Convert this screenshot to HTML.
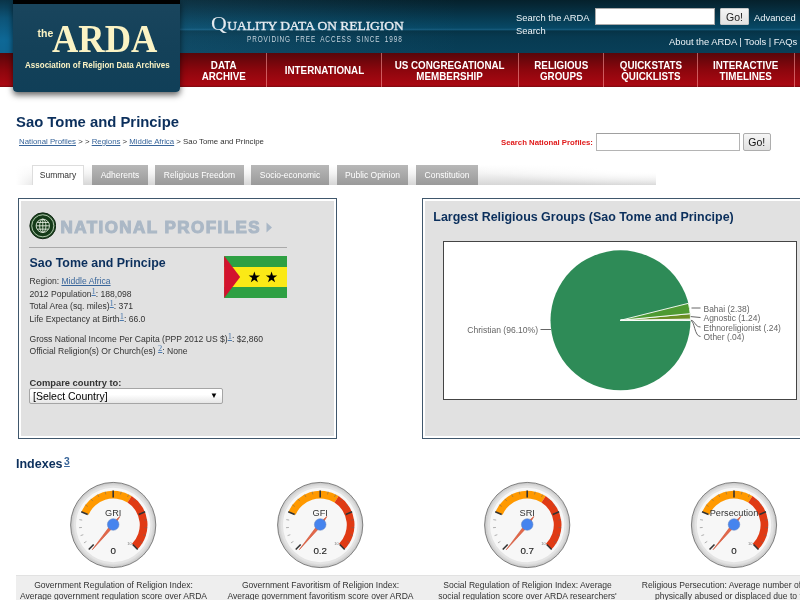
<!DOCTYPE html>
<html lang="en">
<head>
<meta charset="utf-8">
<title>Sao Tome and Principe | National Profiles | the ARDA</title>
<style>
*{box-sizing:border-box;}
html,body{margin:0;padding:0;}
body{width:800px;height:600px;overflow:hidden;background:#fff;font-family:"Liberation Sans",Arial,sans-serif;color:#333;position:relative;}
a{color:#38659a;}
.abs{position:absolute;white-space:nowrap;}
/* header */
#hdr{position:absolute;left:0;top:0;width:800px;height:53px;background:linear-gradient(to right,rgba(70,160,210,.13) 180px,rgba(70,160,210,0) 460px),linear-gradient(to bottom,#05212c 0px,#062735 5px,#074865 28px,#145879 29.5px,#063346 31px,#073a51 37px,#083f58 53px);}
#hdrL{position:absolute;left:0;top:0;width:13px;height:53px;background:linear-gradient(to bottom,#0a3448 0,#0d5478 18px,#0e6896 40px,#0e6592 53px);}
#nav{position:absolute;left:0;top:53px;width:800px;height:34px;background:linear-gradient(to bottom,#58060a 0,#8c060d 50%,#aa0812 94%,#7c0a10 100%);}
#nav .sep{position:absolute;top:0;width:1px;height:34px;background:rgba(255,160,160,.55);}
#nav .it{position:absolute;top:0;height:34px;color:#fff;font-weight:bold;font-size:11px;line-height:11.5px;text-align:center;display:flex;align-items:center;justify-content:center;padding-top:2px;}
#nav .it span{display:inline-block;transform:scaleX(.892);white-space:nowrap;position:relative;left:0.6px;}
#logo{position:absolute;left:12.5px;top:0;width:167.3px;height:92px;background:linear-gradient(to bottom,#19455d 0,#144159 50%,#103f58 100%);border-radius:0 0 4px 4px;box-shadow:0 3px 6px rgba(0,0,0,.62);border-top:4px solid #000;}
#lg-the{left:25px;top:22.5px;color:#fbf3c4;font-weight:bold;font-size:10.5px;}
#lg-arda{left:39.8px;top:11.4px;color:#fbf3c4;font-family:"Liberation Serif","DejaVu Serif",serif;font-weight:bold;font-size:40.5px;transform-origin:0 0;transform:scaleX(.9);}
#lg-sub{left:12px;top:55px;color:#fbf3c4;font-weight:bold;font-size:9.5px;transform-origin:0 0;transform:scaleX(.845);}
#tag1{left:211px;top:11.5px;color:#e6ebf0;font-family:"Liberation Serif",serif;font-weight:normal;font-size:13.5px;line-height:24px;letter-spacing:-0.04px;-webkit-text-stroke:0.35px #e6ebf0;}
#tag1 .q{font-size:19px;letter-spacing:0;-webkit-text-stroke:0;display:inline-block;transform:scaleX(1.15);transform-origin:0 50%;margin-right:2.6px;}
#tag2{left:247px;top:34px;color:#c5d3dd;font-size:8.6px;line-height:10px;letter-spacing:1.2px;word-spacing:2.4px;transform-origin:0 0;transform:scaleX(.745);}
.hs{color:#eef4f8;font-size:9.4px;line-height:14px;}
#hsin{position:absolute;left:595px;top:8px;width:120px;height:17px;background:#fff;border:1px solid #aaa;}
#hsgo{position:absolute;left:720px;top:8px;width:29px;height:17px;background:linear-gradient(#f4f4f4,#e2e2e2);border:1px solid #c8c8c8;border-radius:1px;font-size:10.5px;line-height:16.5px;text-align:center;color:#222;}
#hlinks{left:669px;top:34.5px;}
#h1{left:16px;top:113px;color:#0b2f5c;font-weight:bold;font-size:14.85px;line-height:18px;}
#crumb{left:19px;top:136px;font-size:7.83px;line-height:11px;color:#333;}
#snp{left:501px;top:138px;color:#e01a1a;font-weight:bold;font-size:7.77px;line-height:10px;}
#snpin{position:absolute;left:596px;top:133.3px;width:144px;height:17.5px;background:#fff;border:1px solid #b4b4b4;border-top-color:#a0a0a0;}
#snpgo{position:absolute;left:742.5px;top:133.3px;width:28.5px;height:17.5px;background:linear-gradient(#f6f6f6,#e0e0e0);border:1px solid #adadad;border-radius:2px;font-size:10.5px;line-height:16.5px;text-align:center;color:#111;}
#tabbar{position:absolute;left:16px;top:165px;width:640px;height:20px;background:radial-gradient(ellipse 190px 21px at 100% 0,#fff 0,#fff 35%,rgba(255,255,255,0) 100%),linear-gradient(to right,rgba(255,255,255,1) 0,rgba(255,255,255,0) 30px),linear-gradient(to bottom,#fff 0,#f4f4f4 40%,#d6d6d6 100%);}
.tab{position:absolute;top:165px;height:20px;background:linear-gradient(#b8b8b8,#9a9a9a);color:#fff;font-size:8.5px;line-height:20px;text-align:center;white-space:nowrap;}
.tab.on{background:#fff;color:#333;border:1px solid #ddd;border-bottom:none;line-height:19px;}
.box{position:absolute;top:198px;height:241px;border:1px solid #40576c;background:#e1e1e1;box-shadow:inset 0 0 0 2px #fff;}
#boxL{left:18px;width:319px;}
#boxR{left:422px;width:400px;}
#nptitle{left:60.5px;top:216.5px;color:#abb8c6;font-weight:bold;font-size:17px;line-height:22px;letter-spacing:1.45px;-webkit-text-stroke:1.1px #abb8c6;}
#nphr{position:absolute;left:29px;top:247px;width:258px;height:1px;background:#aaa;}
#npname{left:29.5px;top:254px;color:#0b2f5c;font-weight:bold;font-size:12.4px;line-height:18px;}
.np{left:29.5px;font-size:8.58px;line-height:12px;color:#333;}
.np .sup{font-size:8.5px;line-height:1px;position:relative;top:-2.6px;font-family:"Liberation Serif",serif;color:#4a78ad;}
#cmp{left:29.5px;top:377px;font-size:9.35px;font-weight:bold;color:#333;line-height:12px;}
#sel{position:absolute;left:29px;top:388px;width:194px;height:16px;background:linear-gradient(#fff 0,#fff 40%,#e6e6e6 100%);border:1px solid #a5a5a5;border-radius:2px;font-size:10.5px;line-height:15px;color:#000;padding-left:3px;}
#sel i{position:absolute;right:4px;top:-1px;font-style:normal;font-size:8px;}
#rtitle{left:433.3px;top:209px;color:#0b2f5c;font-weight:bold;font-size:12.45px;line-height:16px;}
#idx{left:16px;top:455.3px;color:#0b2f5c;font-weight:bold;font-size:12.5px;line-height:18px;}
#idx a{font-size:10.3px;font-weight:bold;position:relative;top:-3.6px;margin-left:1.5px;}
#strip{position:absolute;left:16px;top:575px;width:784px;height:25px;background:#eee;border-top:1px solid #e2e2e2;}
.desc{position:absolute;top:580px;width:207px;text-align:center;font-size:8.55px;line-height:11px;color:#333;white-space:nowrap;}
</style>
</head>
<body>
<div id="hdr"></div>
<div id="hdrL"></div>
<div id="nav">
  <div class="sep" style="left:266px"></div>
  <div class="sep" style="left:381px"></div>
  <div class="sep" style="left:518px"></div>
  <div class="sep" style="left:603px"></div>
  <div class="sep" style="left:697px"></div>
  <div class="sep" style="left:794px"></div>
  <div class="it" style="left:180px;width:87px"><span>DATA<br>ARCHIVE</span></div>
  <div class="it" style="left:267px;width:114px"><span>INTERNATIONAL</span></div>
  <div class="it" style="left:381px;width:137px"><span>US CONGREGATIONAL<br>MEMBERSHIP</span></div>
  <div class="it" style="left:518px;width:85px"><span>RELIGIOUS<br>GROUPS</span></div>
  <div class="it" style="left:603px;width:94px"><span>QUICKSTATS<br>QUICKLISTS</span></div>
  <div class="it" style="left:697px;width:97px"><span>INTERACTIVE<br>TIMELINES</span></div>
</div>
<div id="logo">
  <div class="abs" id="lg-the">the</div>
  <div class="abs" id="lg-arda">ARDA</div>
  <div class="abs" id="lg-sub">Association of Religion Data Archives</div>
</div>
<div class="abs" id="tag1"><span class="q">Q</span>UALITY DATA ON RELIGION</div>
<div class="abs" id="tag2">PROVIDING FREE ACCESS SINCE 1998</div>
<div class="abs hs" style="left:516px;top:11px">Search the ARDA</div>
<div id="hsin"></div>
<div id="hsgo">Go!</div>
<div class="abs hs" style="left:754px;top:11px">Advanced</div>
<div class="abs hs" style="left:516px;top:24.3px">Search</div>
<div class="abs hs" id="hlinks">About the ARDA | Tools | FAQs</div>

<div class="abs" id="h1">Sao Tome and Principe</div>
<div class="abs" id="crumb"><a href="#">National Profiles</a> &gt; &gt; <a href="#">Regions</a> &gt; <a href="#">Middle Africa</a> &gt; Sao Tome and Principe</div>
<div class="abs" id="snp">Search National Profiles:</div>
<div id="snpin"></div>
<div id="snpgo">Go!</div>
<div id="tabbar"></div>
<div class="tab on" style="left:32px;width:52px">Summary</div>
<div class="tab" style="left:92px;width:56px">Adherents</div>
<div class="tab" style="left:155px;width:89px">Religious Freedom</div>
<div class="tab" style="left:251px;width:78px">Socio-economic</div>
<div class="tab" style="left:337px;width:71px">Public Opinion</div>
<div class="tab" style="left:416px;width:62px">Constitution</div>
<div class="box" id="boxL"></div>
<svg id="globe" class="abs" style="left:28.8px;top:212.2px" width="27.6" height="27.6" viewBox="0 0 29 29">
  <circle cx="14.5" cy="14.5" r="13.6" fill="#1d4a22" stroke="#0c1f0e" stroke-width="1"/>
  <circle cx="14.5" cy="14.5" r="11.6" fill="none" stroke="#b9c9b4" stroke-width="1"/>
  <circle cx="14.5" cy="14.5" r="10.6" fill="#143a18"/>
  <g fill="none" stroke="#e6efe2" stroke-width="0.9">
    <circle cx="14.5" cy="14.5" r="7"/>
    <ellipse cx="14.5" cy="14.5" rx="3.3" ry="7"/>
    <path d="M14.5 7.5v14M7.5 14.5h14M8.6 11h11.8M8.6 18h11.8"/>
  </g>
</svg>
<div class="abs" id="nptitle">NATIONAL PROFILES</div>
<svg class="abs" style="left:266px;top:222px" width="7" height="11" viewBox="0 0 7 11"><path d="M0.5 0.5 L6 5.5 L0.5 10.5Z" fill="#a9b7c6"/></svg>
<div id="nphr"></div>
<div class="abs" id="npname">Sao Tome and Principe</div>
<svg class="abs" style="left:224px;top:256.3px" width="63.3" height="42" viewBox="0 0 63 42">
  <rect width="63" height="42" fill="#2ea043"/>
  <rect y="11" width="63" height="20" fill="#fbe916"/>
  <path d="M0 0 L16 21 L0 42Z" fill="#d2122e"/>
  <path id="st" d="M30.2 15.4 l1.35 4.15 h4.36 l-3.53 2.56 1.35 4.15 -3.53 -2.56 -3.53 2.56 1.35 -4.15 -3.53 -2.56 h4.36z" fill="#000"/>
  <path d="M47.4 15.4 l1.35 4.15 h4.36 l-3.53 2.56 1.35 4.15 -3.53 -2.56 -3.53 2.56 1.35 -4.15 -3.53 -2.56 h4.36z" fill="#000"/>
</svg>
<div class="abs np" style="top:275px">Region: <a href="#">Middle Africa</a></div>
<div class="abs np" style="top:287.5px">2012 Population<a href="#" class="sup">1</a>: 188,098</div>
<div class="abs np" style="top:300px">Total Area (sq. miles)<a href="#" class="sup">1</a>: 371</div>
<div class="abs np" style="top:312.5px">Life Expectancy at Birth<a href="#" class="sup">1</a>: 66.0</div>
<div class="abs np" style="top:332.5px">Gross National Income Per Capita (PPP 2012 US $)<a href="#" class="sup">1</a>: $2,860</div>
<div class="abs np" style="top:345px">Official Religion(s) Or Church(es) <a href="#" class="sup">2</a>: None</div>
<div class="abs" id="cmp">Compare country to:</div>
<div id="sel"><span>[Select Country]</span><i>&#9660;</i></div>
<div class="box" id="boxR"></div>
<div class="abs" id="rtitle">Largest Religious Groups (Sao Tome and Principe)</div>
<svg id="pie" class="abs" style="left:443px;top:241px" width="354" height="159" viewBox="443 241 354 159" font-family="Liberation Sans, Arial, sans-serif">
  <rect x="443.5" y="241.5" width="353" height="158" fill="#fff" stroke="#444" stroke-width="1"/>
  <circle cx="620.5" cy="320.3" r="70" fill="#2e8b57"/>
  <g stroke="#fff" stroke-width="0.9" stroke-linejoin="round">
    <path d="M620.5 320.3 L690.5 320.3 A70 70 0 0 0 690.5 320.12Z" fill="#2e8b57"/>
    <path d="M620.5 320.3 L690.5 320.12 A70 70 0 0 0 690.49 319.07Z" fill="#3c7a3c"/>
    <path d="M620.5 320.3 L690.49 319.07 A70 70 0 0 0 690.18 313.63Z" fill="#6b8e23"/>
    <path d="M620.5 320.3 L690.18 313.63 A70 70 0 0 0 688.41 303.32Z" fill="#4e9a32"/>
  </g>
  <g fill="none" stroke="#666" stroke-width="1">
    <path d="M540.5 329.5H551"/>
    <path d="M691.5 308H700.5"/>
    <path d="M690.8 316.6L700.5 317.5"/>
    <path d="M691 320.3C695 320.5 695 327 700.5 327"/>
    <path d="M691 320.6C694.5 321 694.5 336.5 700.5 336.5"/>
  </g>
  <g fill="#666" font-size="8.45">
    <text x="538" y="332.7" text-anchor="end" font-size="8.55">Christian (96.10%)</text>
    <text x="703.5" y="311.5">Bahai (2.38)</text>
    <text x="703.5" y="321">Agnostic (1.24)</text>
    <text x="703.5" y="330.5">Ethnoreligionist (.24)</text>
    <text x="703.5" y="340">Other (.04)</text>
  </g>
</svg>
<div class="abs" id="idx">Indexes<a href="#">3</a></div>
<svg id="gauges" class="abs" style="left:0;top:475px" width="800" height="100" viewBox="0 475 800 100" font-family="Liberation Sans, Arial, sans-serif">
  <defs><radialGradient id="ring" cx="50%" cy="50%" r="50%"><stop offset="0.88" stop-color="#ececec"/><stop offset="1" stop-color="#c4c4c4"/></radialGradient></defs>
  <circle cx="113.2" cy="525" r="42.6" fill="url(#ring)" stroke="#666" stroke-width="0.8"/>
  <circle cx="113.2" cy="525" r="38" fill="#f7f7f7" stroke="#e4e4e4" stroke-width="1.6"/>
  <path d="M81.51 511.87A34.3 34.3 0 0 1 131.63 496.07L127.49 502.57A26.6 26.6 0 0 0 88.62 514.82Z" fill="#ff9900"/>
  <path d="M131.63 496.07A34.3 34.3 0 0 1 137.45 549.25L132.01 543.81A26.6 26.6 0 0 0 127.49 502.57Z" fill="#e03a14"/>
  <path d="M83.95 542.92L86.43 541.41M80.58 535.60L83.34 534.70M79.01 527.69L81.90 527.46M79.32 519.63L82.19 520.09M85.45 504.84L87.80 506.54M90.92 498.92L92.81 501.12M97.63 494.44L98.94 497.02M105.19 491.65L105.87 494.47M121.21 491.65L120.53 494.47M128.77 494.44L127.46 497.02M135.48 498.92L133.59 501.12M140.95 504.84L138.60 506.54M147.08 519.63L144.21 520.09M147.39 527.69L144.50 527.46M145.82 535.60L143.06 534.70M142.45 542.92L139.97 541.41" stroke="#666" stroke-width="0.7" stroke-opacity="0.7" fill="none"/>
  <path d="M88.73 549.47L93.68 544.52M81.23 511.76L87.70 514.44M113.20 490.40L113.20 497.40M145.17 511.76L138.70 514.44M137.67 549.47L132.72 544.52" stroke="#333" stroke-width="1.6" fill="none"/>
  <text x="113.2" y="516.4" text-anchor="middle" font-size="9.2" fill="#333">GRI</text>
  <text x="129.5" y="544.5" text-anchor="middle" font-size="4" fill="#777">10</text>
  <text x="113.2" y="554" text-anchor="middle" font-size="9.8" fill="#222" stroke="#222" stroke-width="0.12">0</text>
  <path d="M92.25 549.74L114.51 525.59L119.91 516.42L111.89 523.41Z" fill="#dc3912" fill-opacity="0.75" stroke="#c63310" stroke-width="0.6" stroke-opacity="0.8"/>
  <circle cx="113.2" cy="524.5" r="5.8" fill="#4684ee" stroke="#5b7fc0" stroke-width="0.5"/>
  <circle cx="320.2" cy="525" r="42.6" fill="url(#ring)" stroke="#666" stroke-width="0.8"/>
  <circle cx="320.2" cy="525" r="38" fill="#f7f7f7" stroke="#e4e4e4" stroke-width="1.6"/>
  <path d="M288.51 511.87A34.3 34.3 0 0 1 338.63 496.07L334.49 502.57A26.6 26.6 0 0 0 295.62 514.82Z" fill="#ff9900"/>
  <path d="M338.63 496.07A34.3 34.3 0 0 1 344.45 549.25L339.01 543.81A26.6 26.6 0 0 0 334.49 502.57Z" fill="#e03a14"/>
  <path d="M290.95 542.92L293.43 541.41M287.58 535.60L290.34 534.70M286.01 527.69L288.90 527.46M286.32 519.63L289.19 520.09M292.45 504.84L294.80 506.54M297.92 498.92L299.81 501.12M304.63 494.44L305.94 497.02M312.19 491.65L312.87 494.47M328.21 491.65L327.53 494.47M335.77 494.44L334.46 497.02M342.48 498.92L340.59 501.12M347.95 504.84L345.60 506.54M354.08 519.63L351.21 520.09M354.39 527.69L351.50 527.46M352.82 535.60L350.06 534.70M349.45 542.92L346.97 541.41" stroke="#666" stroke-width="0.7" stroke-opacity="0.7" fill="none"/>
  <path d="M295.73 549.47L300.68 544.52M288.23 511.76L294.70 514.44M320.20 490.40L320.20 497.40M352.17 511.76L345.70 514.44M344.67 549.47L339.72 544.52" stroke="#333" stroke-width="1.6" fill="none"/>
  <text x="320.2" y="516.4" text-anchor="middle" font-size="9.2" fill="#333">GFI</text>
  <text x="336.5" y="544.5" text-anchor="middle" font-size="4" fill="#777">10</text>
  <text x="320.2" y="554" text-anchor="middle" font-size="9.8" fill="#222" stroke="#222" stroke-width="0.12">0.2</text>
  <path d="M299.25 549.74L321.51 525.59L326.91 516.42L318.89 523.41Z" fill="#dc3912" fill-opacity="0.75" stroke="#c63310" stroke-width="0.6" stroke-opacity="0.8"/>
  <circle cx="320.2" cy="524.5" r="5.8" fill="#4684ee" stroke="#5b7fc0" stroke-width="0.5"/>
  <circle cx="527.2" cy="525" r="42.6" fill="url(#ring)" stroke="#666" stroke-width="0.8"/>
  <circle cx="527.2" cy="525" r="38" fill="#f7f7f7" stroke="#e4e4e4" stroke-width="1.6"/>
  <path d="M495.51 511.87A34.3 34.3 0 0 1 545.63 496.07L541.49 502.57A26.6 26.6 0 0 0 502.62 514.82Z" fill="#ff9900"/>
  <path d="M545.63 496.07A34.3 34.3 0 0 1 551.45 549.25L546.01 543.81A26.6 26.6 0 0 0 541.49 502.57Z" fill="#e03a14"/>
  <path d="M497.95 542.92L500.43 541.41M494.58 535.60L497.34 534.70M493.01 527.69L495.90 527.46M493.32 519.63L496.19 520.09M499.45 504.84L501.80 506.54M504.92 498.92L506.81 501.12M511.63 494.44L512.94 497.02M519.19 491.65L519.87 494.47M535.21 491.65L534.53 494.47M542.77 494.44L541.46 497.02M549.48 498.92L547.59 501.12M554.95 504.84L552.60 506.54M561.08 519.63L558.21 520.09M561.39 527.69L558.50 527.46M559.82 535.60L557.06 534.70M556.45 542.92L553.97 541.41" stroke="#666" stroke-width="0.7" stroke-opacity="0.7" fill="none"/>
  <path d="M502.73 549.47L507.68 544.52M495.23 511.76L501.70 514.44M527.20 490.40L527.20 497.40M559.17 511.76L552.70 514.44M551.67 549.47L546.72 544.52" stroke="#333" stroke-width="1.6" fill="none"/>
  <text x="527.2" y="516.4" text-anchor="middle" font-size="9.2" fill="#333">SRI</text>
  <text x="543.5" y="544.5" text-anchor="middle" font-size="4" fill="#777">10</text>
  <text x="527.2" y="554" text-anchor="middle" font-size="9.8" fill="#222" stroke="#222" stroke-width="0.12">0.7</text>
  <path d="M506.25 549.74L528.51 525.59L533.91 516.42L525.89 523.41Z" fill="#dc3912" fill-opacity="0.75" stroke="#c63310" stroke-width="0.6" stroke-opacity="0.8"/>
  <circle cx="527.2" cy="524.5" r="5.8" fill="#4684ee" stroke="#5b7fc0" stroke-width="0.5"/>
  <circle cx="734" cy="525" r="42.6" fill="url(#ring)" stroke="#666" stroke-width="0.8"/>
  <circle cx="734" cy="525" r="38" fill="#f7f7f7" stroke="#e4e4e4" stroke-width="1.6"/>
  <path d="M702.31 511.87A34.3 34.3 0 0 1 752.43 496.07L748.29 502.57A26.6 26.6 0 0 0 709.42 514.82Z" fill="#ff9900"/>
  <path d="M752.43 496.07A34.3 34.3 0 0 1 758.25 549.25L752.81 543.81A26.6 26.6 0 0 0 748.29 502.57Z" fill="#e03a14"/>
  <path d="M704.75 542.92L707.23 541.41M701.38 535.60L704.14 534.70M699.81 527.69L702.70 527.46M700.12 519.63L702.99 520.09M706.25 504.84L708.60 506.54M711.72 498.92L713.61 501.12M718.43 494.44L719.74 497.02M725.99 491.65L726.67 494.47M742.01 491.65L741.33 494.47M749.57 494.44L748.26 497.02M756.28 498.92L754.39 501.12M761.75 504.84L759.40 506.54M767.88 519.63L765.01 520.09M768.19 527.69L765.30 527.46M766.62 535.60L763.86 534.70M763.25 542.92L760.77 541.41" stroke="#666" stroke-width="0.7" stroke-opacity="0.7" fill="none"/>
  <path d="M709.53 549.47L714.48 544.52M702.03 511.76L708.50 514.44M734.00 490.40L734.00 497.40M765.97 511.76L759.50 514.44M758.47 549.47L753.52 544.52" stroke="#333" stroke-width="1.6" fill="none"/>
  <text x="734" y="516.4" text-anchor="middle" font-size="9.2" fill="#333">Persecution</text>
  <text x="750.3" y="544.5" text-anchor="middle" font-size="4" fill="#777">10</text>
  <text x="734" y="554" text-anchor="middle" font-size="9.8" fill="#222" stroke="#222" stroke-width="0.12">0</text>
  <path d="M713.05 549.74L735.31 525.59L740.71 516.42L732.69 523.41Z" fill="#dc3912" fill-opacity="0.75" stroke="#c63310" stroke-width="0.6" stroke-opacity="0.8"/>
  <circle cx="734" cy="524.5" r="5.8" fill="#4684ee" stroke="#5b7fc0" stroke-width="0.5"/>
</svg>
<div id="strip"></div>
<div class="desc" style="left:10px">Government Regulation of Religion Index:<br>Average government regulation score over ARDA</div>
<div class="desc" style="left:217px">Government Favoritism of Religion Index:<br>Average government favoritism score over ARDA</div>
<div class="desc" style="left:424px">Social Regulation of Religion Index: Average<br>social regulation score over ARDA researchers'</div>
<div class="desc" style="left:632px">Religious Persecution: Average number of people<br>physically abused or displaced due to their</div>
</body>
</html>
